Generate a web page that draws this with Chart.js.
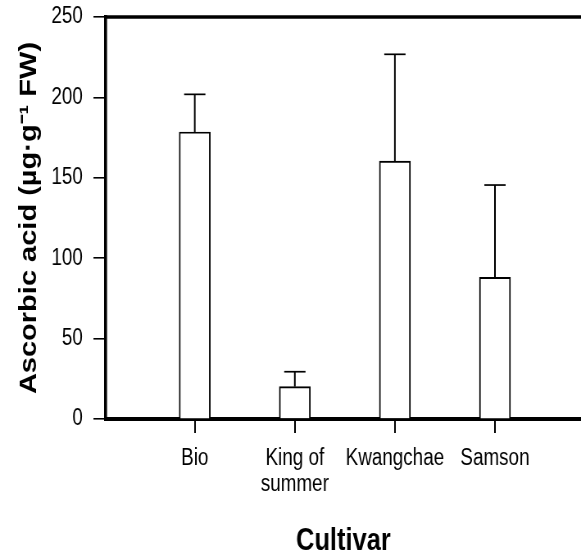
<!DOCTYPE html>
<html>
<head>
<meta charset="utf-8">
<script src="https://cdn.jsdelivr.net/npm/chart.js@4.4.1/dist/chart.umd.min.js"></script>
<style>
  html, body { margin: 0; padding: 0; background: #fff; }
  /* the figure uses a narrow face; no narrow font here, so the canvas is drawn wider and squeezed */
  #chart { display: block; width: 581px; height: 559px; }
</style>
</head>
<body>
<canvas id="chart" width="709" height="559" style="width:581px;height:559px"></canvas>
<script>
// data
const cultivars = ['Bio', ['King of', 'summer'], 'Kwangchae', 'Samson'];
const means = [178.5, 20.1, 160.4, 88.1];
const errors = [23.4, 9.3, 66.4, 57.4];
const yTicks = [0, 50, 100, 150, 200, 250];

const font = "'Liberation Sans', Arial, Helvetica, sans-serif";

// top frame line + one-sided error bars
const extras = {
    id: 'extras',
    afterDraw(chart) {
        const { ctx, chartArea, scales } = chart;
        ctx.save();
        ctx.strokeStyle = '#000';
        ctx.lineWidth = 3.5;
        ctx.beginPath();
        ctx.moveTo(chartArea.left - 1.8, chartArea.top);
        ctx.lineTo(chartArea.right, chartArea.top);
        ctx.stroke();

        means.forEach((m, i) => {
            const x = scales.x.getPixelForValue(i);
            const y0 = scales.y.getPixelForValue(m);
            const y1 = scales.y.getPixelForValue(m + errors[i]);
            ctx.lineWidth = 2;
            ctx.beginPath();
            ctx.moveTo(x, y0);
            ctx.lineTo(x, y1);
            ctx.stroke();
            ctx.lineWidth = 1.7;
            ctx.beginPath();
            ctx.moveTo(x - 13, y1);
            ctx.lineTo(x + 13, y1);
            ctx.stroke();
        });
        ctx.restore();
    }
};

new Chart(document.getElementById('chart'), {
    type: 'bar',
    data: {
        datasets: [{
            data: means.map((v, i) => ({ x: i, y: v })),
            backgroundColor: '#fff',
            borderColor: '#000',
            borderWidth: 1.9,
            borderSkipped: 'start',
            barThickness: 38
        }]
    },
    options: {
        responsive: false,
        animation: false,
        devicePixelRatio: 1,
        layout: { padding: { top: 17, right: 0, left: 0, bottom: 0 } },
        plugins: { legend: { display: false }, tooltip: { enabled: false } },
        scales: {
            x: {
                type: 'linear',
                offset: false,
                z: 1,
                min: -0.89,
                max: 3.86,
                afterBuildTicks: s => { s.ticks = cultivars.map((c, i) => ({ value: i })); },
                afterFit: s => { s.height = 140; s.paddingLeft = 0; s.paddingRight = 0; },
                ticks: {
                    color: '#000',
                    padding: 12,
                    maxRotation: 0,
                    autoSkip: false,
                    font: { family: font, size: 23, lineHeight: 1.15 },
                    callback: v => cultivars[v]
                },
                grid: { offset: false, drawOnChartArea: false, color: '#000', lineWidth: 2, tickLength: 14 },
                border: { color: '#000', width: 4 },
                title: {
                    display: true,
                    text: 'Cultivar',
                    color: '#000',
                    padding: { top: 0, bottom: 2 },
                    font: { family: font, size: 31, weight: 'bold', lineHeight: 1 }
                }
            },
            y: {
                min: 0,
                max: 250,
                afterBuildTicks: s => { s.ticks = yTicks.map(v => ({ value: v })); },
                afterFit: s => { s.width = 129; s.paddingTop = 0; s.paddingBottom = 0; },
                ticks: {
                    color: '#000',
                    padding: 13,
                    font: { family: font, size: 23 }
                },
                grid: { drawOnChartArea: false, color: '#000', lineWidth: 1.6, tickLength: 15 },
                border: { color: '#000', width: 3.6 },
                title: {
                    display: true,
                    text: 'Ascorbic acid (µg·g⁻¹ FW)',
                    color: '#000',
                    padding: { top: 19, bottom: 0 },
                    font: { family: font, size: 29, weight: 'bold', lineHeight: 1.2 }
                }
            }
        }
    },
    plugins: [extras]
});
</script>
</body>
</html>
